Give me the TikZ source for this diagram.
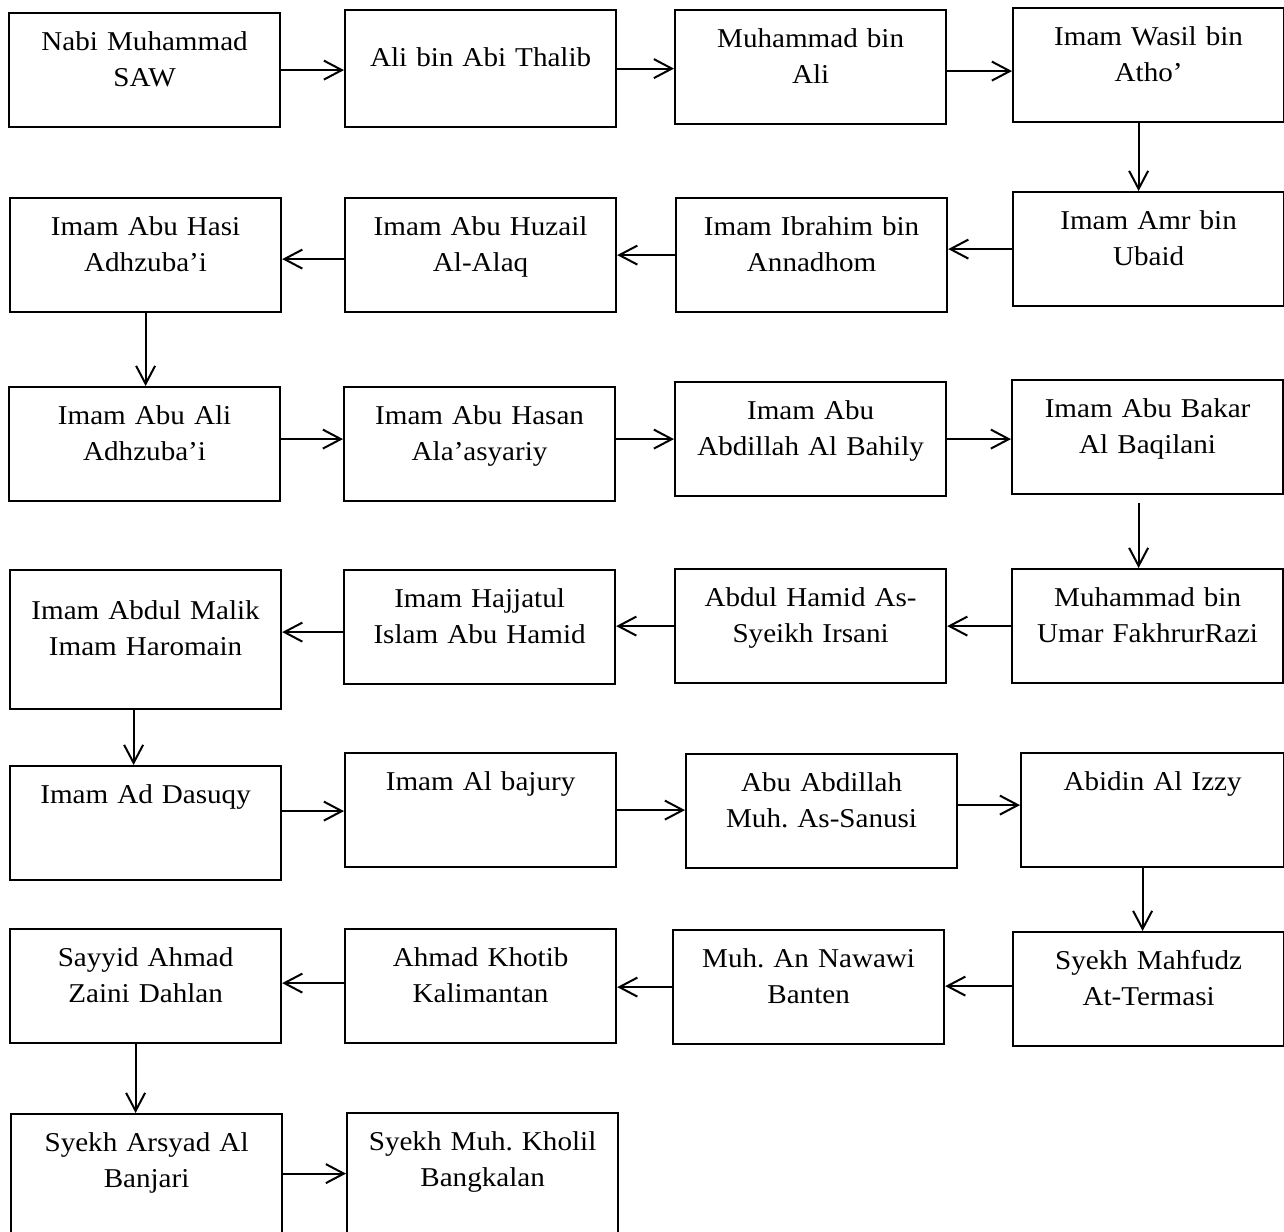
\documentclass[tikz,border=0pt]{standalone}
\usepackage{fontspec}
\setmainfont{Liberation Serif}[FakeStretch=1.07]
\usetikzlibrary{arrows.meta}
\frenchspacing

\begin{document}
\begin{tikzpicture}[x=0.5pt, y=-0.5pt,
    box/.style={draw, line width=1.1pt, anchor=north west, inner sep=0pt,
        text width=135.5pt, align=center, text height=18.5pt, text depth=38.5pt,
        font=\fontsize{13.6pt}{18pt}\selectfont},
    arr/.style={line width=1pt, -{Straight Barb[length=9pt, width=9.5pt]}}]
        \useasboundingbox (0,0) rectangle (1284,1231);

        % Row 1
        \node[box] (nabi) at (8,12) {Nabi Muhammad\\SAW};
        \node[box, text height=28pt, text depth=30.5pt] (ali) at (344,9) {Ali bin Abi Thalib};
        \node[box] (muhammad) at (674,9) {Muhammad bin\\Ali};
        \node[box] (wasil) at (1012,7) {Imam Wasil bin\\Atho’};

        % Row 2
        \node[box] (amr) at (1012,191) {Imam Amr bin\\Ubaid};
        \node[box] (ibrahim) at (675,197) {Imam Ibrahim bin\\Annadhom};
        \node[box] (huzail) at (344,197) {Imam Abu Huzail\\Al-Alaq};
        \node[box] (hasi) at (9,197) {Imam Abu Hasi\\Adhzuba’i};

        % Row 3
        \node[box] (abuali) at (8,386) {Imam Abu Ali\\Adhzuba’i};
        \node[box] (hasan) at (343,386) {Imam Abu Hasan\\Ala’asyariy};
        \node[box] (bahily) at (674,381) {Imam Abu\\Abdillah Al Bahily};
        \node[box] (baqilani) at (1011,379) {Imam Abu Bakar\\Al Baqilani};

        % Row 4
        \node[box] (razi) at (1011,568) {Muhammad bin\\Umar FakhrurRazi};
        \node[box] (irsani) at (674,568) {Abdul Hamid As-\\Syeikh Irsani};
        \node[box] (hajjatul) at (343,569) {Imam Hajjatul\\Islam Abu Hamid};
        \node[box, text height=24.5pt, text depth=45pt] (haromain) at (9,569) {Imam Abdul Malik\\Imam Haromain};

        % Row 5
        \node[box] (dasuqy) at (9,765) {Imam Ad Dasuqy};
        \node[box] (bajury) at (344,752) {Imam Al bajury};
        \node[box] (sanusi) at (685,753) {Abu Abdillah\\Muh. As-Sanusi};
        \node[box, text width=131.5pt] (izzy) at (1020,752) {Abidin Al Izzy};

        % Row 6
        \node[box] (mahfudz) at (1012,931) {Syekh Mahfudz\\At-Termasi};
        \node[box] (nawawi) at (672,929) {Muh. An Nawawi\\Banten};
        \node[box] (khotib) at (344,928) {Ahmad Khotib\\Kalimantan};
        \node[box] (dahlan) at (9,928) {Sayyid Ahmad\\Zaini Dahlan};

        % Row 7
        \node[box, text depth=44pt] (banjari) at (10,1113) {Syekh Arsyad Al\\Banjari};
        \node[box, text depth=44pt] (kholil) at (346,1112) {Syekh Muh. Kholil\\Bangkalan};

        % Arrows
        \draw[arr] (nabi.east) -- (nabi.east -| ali.west);
        \draw[arr] (ali.east) -- (ali.east -| muhammad.west);
        \draw[arr] ([yshift=-2pt]muhammad.east) -- ([yshift=-2pt]muhammad.east -| wasil.west);
        \draw[arr] ([xshift=-5pt]wasil.south) -- ([xshift=-5pt]wasil.south |- amr.north);

        \draw[arr] (amr.west) -- (amr.west -| ibrahim.east);
        \draw[arr] (ibrahim.west) -- (ibrahim.west -| huzail.east);
        \draw[arr] ([yshift=-2pt]huzail.west) -- ([yshift=-2pt]huzail.west -| hasi.east);
        \draw[arr] (hasi.south) -- (hasi.south |- abuali.north);

        \draw[arr] ([yshift=2.5pt]abuali.east) -- ([yshift=2.5pt]abuali.east -| hasan.west);
        \draw[arr] ([yshift=2.5pt]hasan.east) -- ([yshift=2.5pt]hasan.east -| bahily.west);
        \draw[arr] (bahily.east) -- (bahily.east -| baqilani.west);
        \draw[arr, shorten <=4pt] ([xshift=-4.5pt]baqilani.south) -- ([xshift=-4.5pt]baqilani.south |- razi.north);

        \draw[arr] (razi.west) -- (razi.west -| irsani.east);
        \draw[arr] (irsani.west) -- (irsani.west -| hajjatul.east);
        \draw[arr] ([yshift=-2.5pt]hajjatul.west) -- ([yshift=-2.5pt]hajjatul.west -| haromain.east);
        \draw[arr] ([xshift=-6pt]haromain.south) -- ([xshift=-6pt]haromain.south |- dasuqy.north);

        \draw[arr] ([yshift=6pt]dasuqy.east) -- ([yshift=6pt]dasuqy.east -| bajury.west);
        \draw[arr] (bajury.east) -- (bajury.east -| sanusi.west);
        \draw[arr] ([yshift=3pt]sanusi.east) -- ([yshift=3pt]sanusi.east -| izzy.west);
        \draw[arr] ([xshift=-5pt]izzy.south) -- ([xshift=-5pt]izzy.south |- mahfudz.north);

        \draw[arr] ([yshift=1.5pt]mahfudz.west) -- ([yshift=1.5pt]mahfudz.west -| nawawi.east);
        \draw[arr] (nawawi.west) -- (nawawi.west -| khotib.east);
        \draw[arr] ([yshift=1.5pt]khotib.west) -- ([yshift=1.5pt]khotib.west -| dahlan.east);
        \draw[arr] ([xshift=-5pt]dahlan.south) -- ([xshift=-5pt]dahlan.south |- banjari.north);

        \draw[arr] ([yshift=1.5pt]banjari.east) -- ([yshift=1.5pt]banjari.east -| kholil.west);

    \end{tikzpicture}
\end{document}
